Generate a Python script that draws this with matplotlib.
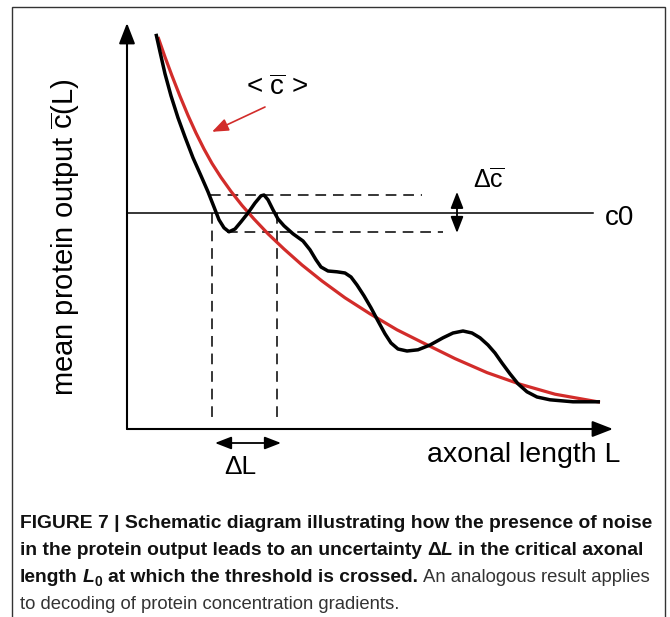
"""Schematic: noisy protein output vs. axonal length, with threshold crossing.
"""
import numpy as np
import matplotlib
matplotlib.use('Agg')
import matplotlib.pyplot as plt
from matplotlib.patches import Rectangle
from matplotlib.transforms import IdentityTransform

plt.rcParams['font.family'] = ['Liberation Sans', 'DejaVu Sans']
plt.rcParams['mathtext.fontset'] = 'custom'
plt.rcParams['mathtext.rm'] = 'Liberation Sans'
plt.rcParams['mathtext.it'] = 'Liberation Sans:italic'
plt.rcParams['mathtext.bf'] = 'Liberation Sans:bold'

# noisy output c(L) along the axon (arbitrary units)
L_noisy = [0.58, 0.66, 0.76, 0.88, 1.02, 1.16, 1.32, 1.48, 1.62, 1.74, 1.84, 1.94,
           2.04, 2.16, 2.28, 2.42, 2.56, 2.68, 2.74, 2.82, 2.92, 3.02, 3.14, 3.32,
           3.52, 3.66, 3.78, 3.88, 4.02, 4.20, 4.36, 4.48, 4.60, 4.74, 4.88, 5.02,
           5.16, 5.28, 5.42, 5.60, 5.82, 6.06, 6.32, 6.52, 6.72, 6.90, 7.06, 7.22,
           7.36, 7.50, 7.66, 7.82, 8.00, 8.20, 8.46, 8.92, 9.46]
c_noisy = [9.88, 9.43, 8.88, 8.33, 7.78, 7.30, 6.78, 6.33, 5.93, 5.55, 5.23, 5.03,
           4.93, 5.00, 5.18, 5.40, 5.65, 5.83, 5.85, 5.73, 5.48, 5.25, 5.08, 4.88,
           4.70, 4.48, 4.23, 4.05, 3.95, 3.93, 3.90, 3.80, 3.60, 3.33, 3.03, 2.70,
           2.38, 2.15, 2.00, 1.95, 1.98, 2.10, 2.28, 2.40, 2.45, 2.40, 2.28, 2.10,
           1.90, 1.65, 1.38, 1.13, 0.93, 0.80, 0.73, 0.68, 0.68]

# mean output <c>
L_mean = [0.62, 0.76, 0.90, 1.06, 1.22, 1.38, 1.54, 1.70, 1.88, 2.08, 2.30, 2.54,
          2.82, 3.14, 3.50, 3.90, 4.36, 4.86, 5.40, 5.96, 6.56, 7.20, 7.86, 8.56, 9.46]
c_mean = [9.80, 9.30, 8.83, 8.32, 7.84, 7.40, 7.00, 6.64, 6.29, 5.94, 5.59, 5.25,
          4.88, 4.50, 4.10, 3.70, 3.28, 2.88, 2.48, 2.13, 1.76, 1.41, 1.12, 0.87, 0.67]

c0 = 5.4                      # threshold
c_band = [4.93, 5.85]         # min / max of the noisy output near c0
L_cross = [1.70, 3.00]        # first / last crossing of c0

red = '#d22c2a'

fig = plt.figure(figsize=(6.7, 6.17), dpi=100)
ax = fig.add_axes([0, 0, 1, 1])
ax.set_xlim(-2.54, 10.86)
ax.set_ylim(-4.7, 10.725)
ax.axis('off')

# axes with arrow heads
head = '-|>,head_length=0.9,head_width=0.35'
ax.annotate('', xy=(0, 10.15), xytext=(0, 0),
            arrowprops=dict(arrowstyle=head, mutation_scale=14, lw=1.5,
                            color='black', shrinkA=0, shrinkB=0))
ax.annotate('', xy=(9.72, 0), xytext=(0, 0),
            arrowprops=dict(arrowstyle=head, mutation_scale=14, lw=1.5,
                            color='black', shrinkA=0, shrinkB=0))

# threshold line
ax.plot([0, 9.32], [c0, c0], color='black', lw=1.1)

# dashed guides
dash = (0, (7, 4.5))
ax.plot([1.66, 5.90], [c_band[1], c_band[1]], color='black', lw=1.1, linestyle=dash)
ax.plot([2.00, 6.32], [c_band[0], c_band[0]], color='black', lw=1.1, linestyle=dash)
for Lx in L_cross:
    ax.plot([Lx, Lx], [c0, 0.22], color='black', lw=1.1, linestyle=dash)

# curves
ax.plot(L_mean, c_mean, color=red, lw=2.3, solid_capstyle='butt',
        solid_joinstyle='round', zorder=3)
ax.plot(L_noisy, c_noisy, color='black', lw=2.5, solid_capstyle='butt',
        solid_joinstyle='round', zorder=4)

# annotations
ax.annotate('', xy=(1.70, 7.43), xytext=(2.76, 8.05),
            arrowprops=dict(arrowstyle='-|>,head_length=0.9,head_width=0.35',
                            mutation_scale=11, lw=1.2, color=red,
                            shrinkA=0, shrinkB=0))
ax.text(3.0, 8.52, r'< $\overline{\mathrm{c}}$ >', fontsize=20,
        ha='center', va='center')

dbl = '<|-|>,head_length=0.9,head_width=0.35'
ax.annotate('', xy=(6.6, c_band[1] + 0.08), xytext=(6.6, c_band[0] - 0.03),
            arrowprops=dict(arrowstyle=dbl, mutation_scale=11, lw=1.3,
                            color='black', shrinkA=0, shrinkB=0))
ax.text(7.24, 6.23, r'$\Delta\overline{\mathrm{c}}$', fontsize=18,
        ha='center', va='center')
ax.text(9.56, 5.27, 'c0', fontsize=20, ha='left', va='center')

ax.annotate('', xy=(L_cross[0] + 0.06, -0.35), xytext=(L_cross[1] + 0.08, -0.35),
            arrowprops=dict(arrowstyle=dbl, mutation_scale=11, lw=1.3,
                            color='black', shrinkA=0, shrinkB=0))
ax.text(2.26, -1.12, r'ΔL', fontsize=19, ha='center', va='baseline')

ax.text(9.86, -0.83, 'axonal length L', fontsize=20.5, ha='right', va='baseline')
ax.text(-1.24, 4.8, r'mean protein output $\overline{\mathrm{c}}$(L)', fontsize=21,
        rotation=90, ha='center', va='center')

# frame around figure and caption
fig.add_artist(Rectangle((12, -10), 653, 620, transform=IdentityTransform(),
                         fill=False, edgecolor='#333333', lw=1.0))

# caption, built piece by piece so bold/italic/regular can mix
renderer = fig.canvas.get_renderer()
H = 617
fs = 13.9
bold = dict(fontsize=fs, fontweight='bold', color='#111111')
boldit = dict(fontsize=fs, fontweight='bold', fontstyle='italic', color='#111111')
sub = dict(fontsize=10, fontweight='bold', color='#111111')
reg = dict(fontsize=13.3, color='#333333')


def space_width(props):
    a = fig.text(0, 0, 'n n', **props)
    b = fig.text(0, 0, 'nn', **props)
    w = a.get_window_extent(renderer).width - b.get_window_extent(renderer).width
    a.remove()
    b.remove()
    return w


def caption_line(y, parts, x0=20):
    x = x0
    for txt, props, dy in parts:
        if txt == ' ':
            x += space_width(props)
            continue
        t = fig.text(x, H - y + dy, txt, transform=IdentityTransform(),
                     ha='left', va='baseline', **props)
        x += t.get_window_extent(renderer).width


caption_line(528, [('FIGURE 7 | Schematic diagram illustrating how the presence of noise', bold, 0)])
caption_line(555, [('in the protein output leads to an uncertainty', bold, 0), (' ', bold, 0),
                   ('Δ', bold, 0), ('L', boldit, 0), (' ', bold, 0),
                   ('in the critical axonal', bold, 0)])
caption_line(582, [('length', bold, 0), (' ', bold, 0), ('L', boldit, 0), ('0', sub, -4),
                   (' ', bold, 0), ('at which the threshold is crossed.', bold, 0),
                   (' ', reg, 0), ('An analogous result applies', reg, 0)])
caption_line(609, [('to decoding of protein concentration gradients.', reg, 0)])

fig.savefig('out.png', dpi=100)
